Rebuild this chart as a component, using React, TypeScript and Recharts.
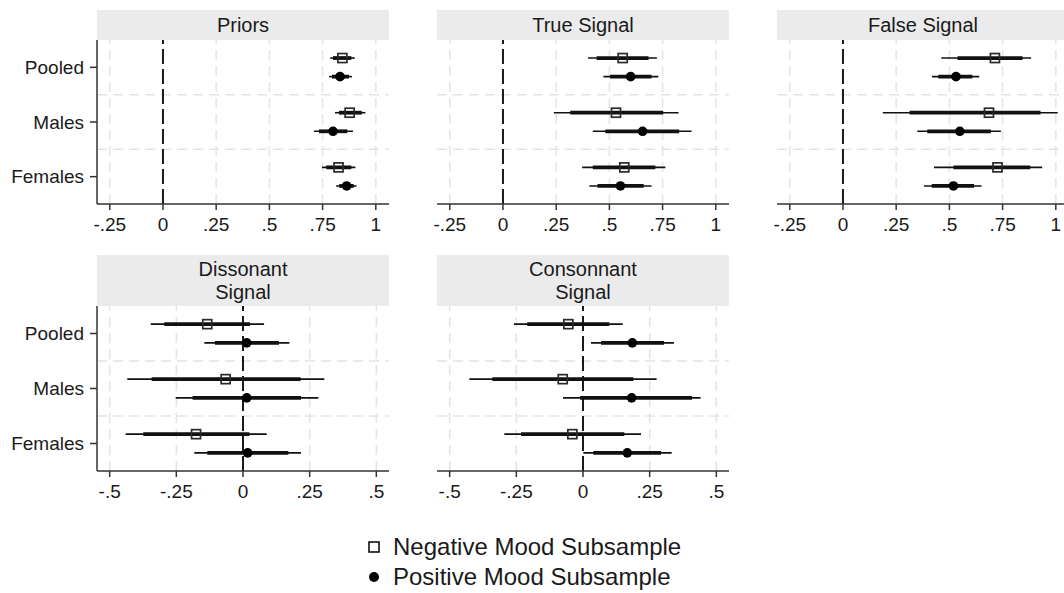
import React from "react";
import { ComposedChart, Scatter, XAxis, YAxis, ErrorBar, ReferenceLine } from "recharts";

// ---------- categories & ticks ----------
const categories = ["Pooled", "Males", "Females"];
const catTicks = [1, 2, 3];
const catBoundaries = [1.5, 2.5];

const topTicks = [-0.25, 0, 0.25, 0.5, 0.75, 1];
const topTickLabels = ["-.25", "0", ".25", ".5", ".75", "1"];
const bottomTicks = [-0.5, -0.25, 0, 0.25, 0.5];
const bottomTickLabels = ["-.5", "-.25", "0", ".25", ".5"];

const legendLabels = ["Negative Mood Subsample", "Positive Mood Subsample"];

// ---------- Priors ----------
const priorsNegEst = [0.843, 0.877, 0.825];
const priorsNegCI95 = [[0.786, 0.901], [0.808, 0.951], [0.747, 0.904]];
const priorsNegCI90 = [[0.799, 0.885], [0.827, 0.934], [0.767, 0.885]];
const priorsPosEst = [0.832, 0.799, 0.863];
const priorsPosCI95 = [[0.78, 0.888], [0.709, 0.893], [0.814, 0.909]];
const priorsPosCI90 = [[0.794, 0.874], [0.733, 0.866], [0.828, 0.896]];

// ---------- True Signal ----------
const trueNegEst = [0.5625, 0.531, 0.57];
const trueNegCI95 = [[0.4, 0.723], [0.239, 0.825], [0.372, 0.763]];
const trueNegCI90 = [[0.44, 0.684], [0.316, 0.753], [0.422, 0.716]];
const truePosEst = [0.6, 0.656, 0.552];
const truePosCI95 = [[0.472, 0.73], [0.422, 0.886], [0.406, 0.698]];
const truePosCI90 = [[0.503, 0.698], [0.481, 0.828], [0.444, 0.661]];

// ---------- False Signal ----------
const falseNegEst = [0.714, 0.686, 0.726];
const falseNegCI95 = [[0.462, 0.884], [0.187, 1.009], [0.428, 0.936]];
const falseNegCI90 = [[0.538, 0.844], [0.313, 0.928], [0.519, 0.88]];
const falsePosEst = [0.531, 0.549, 0.519];
const falsePosCI95 = [[0.418, 0.64], [0.349, 0.742], [0.381, 0.651]];
const falsePosCI90 = [[0.448, 0.608], [0.396, 0.695], [0.417, 0.616]];

// ---------- Dissonant Signal ----------
const dissNegEst = [-0.134, -0.065, -0.176];
const dissNegCI95 = [[-0.346, 0.079], [-0.434, 0.305], [-0.44, 0.089]];
const dissNegCI90 = [[-0.295, 0.026], [-0.3425, 0.216], [-0.374, 0.024]];
const dissPosEst = [0.014, 0.014, 0.0175];
const dissPosCI95 = [[-0.145, 0.174], [-0.2525, 0.2825], [-0.1825, 0.2175]];
const dissPosCI90 = [[-0.105, 0.135], [-0.189, 0.2175], [-0.134, 0.17]];

// ---------- Consonnant Signal ----------
const consNegEst = [-0.055, -0.076, -0.04];
const consNegCI95 = [[-0.259, 0.149], [-0.426, 0.276], [-0.295, 0.2175]];
const consNegCI90 = [[-0.209, 0.099], [-0.34, 0.189], [-0.2325, 0.155]];
const consPosEst = [0.185, 0.1825, 0.166];
const consPosCI95 = [[0.03, 0.341], [-0.075, 0.441], [0.001, 0.3325]];
const consPosCI90 = [[0.0675, 0.304], [-0.011, 0.409], [0.039, 0.2925]];

// ---------- layout / style ----------
const FONT = '"Liberation Sans", Arial, Helvetica, sans-serif';
const TEXT = "#1a1a1a";
const AXIS = "#333333";
const GRID = "#e4e4e4";
const OFFSET = 0.17;

const colLeft = [97, 437, 777];
const PLOT_W = 292;
const rows = [
  { headerTop: 10, headerH: 30, plotTop: 40, plotH: 164, domain: [-0.31, 1.062], ticks: topTicks, labels: topTickLabels },
  { headerTop: 255, headerH: 51, plotTop: 306, plotH: 165, domain: [-0.5475, 0.5475], ticks: bottomTicks, labels: bottomTickLabels },
];

function buildData(est: number[], ci95: number[][], ci90: number[][], shift: number) {
  return est.map((v, i) => ({
    x: v,
    y: catTicks[i] + shift,
    e95: [v - ci95[i][0], ci95[i][1] - v],
    e90: [v - ci90[i][0], ci90[i][1] - v],
  }));
}

const SquareShape = (props: any) => {
  const { cx, cy } = props;
  if (cx == null || cy == null) return null;
  return <rect x={cx - 4.5} y={cy - 4.5} width={9} height={9} fill="none" stroke="#2a2a2a" strokeWidth={1.7} />;
};

const CircleShape = (props: any) => {
  const { cx, cy } = props;
  if (cx == null || cy == null) return null;
  return <circle cx={cx} cy={cy} r={4.8} fill="#000" />;
};

type PanelProps = {
  title: string[];
  col: number;
  row: number;
  neg: any[];
  pos: any[];
};

function Panel({ title, col, row, neg, pos }: PanelProps) {
  const r = rows[row];
  const showY = col === 0;
  const padR = 14;
  const chartLeft = showY ? 0 : colLeft[col] - padR;
  const chartW = showY ? colLeft[col] + PLOT_W + padR : PLOT_W + 2 * padR;
  const xAxisH = 40;
  const chartH = r.plotH + xAxisH;

  return (
    <>
      <div
        style={{
          position: "absolute",
          left: colLeft[col],
          top: r.headerTop,
          width: PLOT_W,
          height: r.headerH,
          background: "#ebebeb",
          display: "flex",
          flexDirection: "column",
          alignItems: "center",
          justifyContent: "center",
          fontFamily: FONT,
          fontSize: 20,
          lineHeight: "23px",
          color: TEXT,
        }}
      >
        {title.map((t) => (
          <div key={t}>{t}</div>
        ))}
      </div>
      <div style={{ position: "absolute", left: chartLeft, top: r.plotTop }}>
        <ComposedChart
          width={chartW}
          height={chartH}
          margin={{ top: 0, right: padR, bottom: 0, left: showY ? 0 : padR }}
        >
          <XAxis
            type="number"
            dataKey="x"
            domain={r.domain}
            ticks={r.ticks}
            interval={0}
            allowDataOverflow
            tickFormatter={(v: number) => r.labels[r.ticks.indexOf(v)]}
            height={xAxisH}
            tickSize={6}
            tickMargin={8}
            axisLine={{ stroke: AXIS, strokeWidth: 1.5 }}
            tickLine={{ stroke: AXIS, strokeWidth: 1.5 }}
            tick={{ fill: TEXT, fontSize: 19, fontFamily: FONT }}
          />
          <YAxis
            type="number"
            dataKey="y"
            domain={[0.5, 3.5]}
            reversed
            ticks={catTicks}
            interval={0}
            allowDataOverflow
            hide={!showY}
            width={showY ? colLeft[0] : 0}
            tickFormatter={(v: number) => categories[catTicks.indexOf(v)]}
            tickSize={7}
            tickMargin={6}
            axisLine={{ stroke: AXIS, strokeWidth: 1.5 }}
            tickLine={{ stroke: AXIS, strokeWidth: 1.5 }}
            tick={{ fill: TEXT, fontSize: 19, fontFamily: FONT }}
          />
          {r.ticks
            .filter((t) => t !== 0)
            .map((t) => (
              <ReferenceLine key={"vx" + t} x={t} stroke={GRID} strokeWidth={1.5} strokeDasharray="10 6" />
            ))}
          {catBoundaries.map((b) => (
            <ReferenceLine key={"hy" + b} y={b} stroke={GRID} strokeWidth={1.5} strokeDasharray="10 6" />
          ))}
          <ReferenceLine x={0} stroke="#1a1a1a" strokeWidth={2} strokeDasharray="15 5" />
          <Scatter data={neg} isAnimationActive={false} shape={SquareShape}>
            <ErrorBar dataKey="e95" direction="x" width={0} stroke="#111" strokeWidth={1.6} isAnimationActive={false} />
            <ErrorBar dataKey="e90" direction="x" width={0} stroke="#111" strokeWidth={3.8} isAnimationActive={false} />
          </Scatter>
          <Scatter data={pos} isAnimationActive={false} shape={CircleShape}>
            <ErrorBar dataKey="e95" direction="x" width={0} stroke="#111" strokeWidth={1.6} isAnimationActive={false} />
            <ErrorBar dataKey="e90" direction="x" width={0} stroke="#111" strokeWidth={3.8} isAnimationActive={false} />
          </Scatter>
        </ComposedChart>
      </div>
    </>
  );
}

export default function App() {
  const panels: PanelProps[] = [
    {
      title: ["Priors"], col: 0, row: 0,
      neg: buildData(priorsNegEst, priorsNegCI95, priorsNegCI90, -OFFSET),
      pos: buildData(priorsPosEst, priorsPosCI95, priorsPosCI90, OFFSET),
    },
    {
      title: ["True Signal"], col: 1, row: 0,
      neg: buildData(trueNegEst, trueNegCI95, trueNegCI90, -OFFSET),
      pos: buildData(truePosEst, truePosCI95, truePosCI90, OFFSET),
    },
    {
      title: ["False Signal"], col: 2, row: 0,
      neg: buildData(falseNegEst, falseNegCI95, falseNegCI90, -OFFSET),
      pos: buildData(falsePosEst, falsePosCI95, falsePosCI90, OFFSET),
    },
    {
      title: ["Dissonant", "Signal"], col: 0, row: 1,
      neg: buildData(dissNegEst, dissNegCI95, dissNegCI90, -OFFSET),
      pos: buildData(dissPosEst, dissPosCI95, dissPosCI90, OFFSET),
    },
    {
      title: ["Consonnant", "Signal"], col: 1, row: 1,
      neg: buildData(consNegEst, consNegCI95, consNegCI90, -OFFSET),
      pos: buildData(consPosEst, consPosCI95, consPosCI90, OFFSET),
    },
  ];

  return (
    <div
      style={{
        position: "absolute",
        left: 0,
        top: 0,
        width: 1064,
        height: 593,
        overflow: "hidden",
        background: "#fff",
        fontFamily: FONT,
      }}
    >
      {panels.map((p) => (
        <Panel key={p.title.join(" ")} {...p} />
      ))}
      <div style={{ position: "absolute", left: 366, top: 532, fontFamily: FONT, fontSize: 24, color: TEXT }}>
        {legendLabels.map((label, i) => (
          <div key={label} style={{ display: "flex", alignItems: "center", height: 30 }}>
            <svg width={16} height={16} style={{ marginRight: 11 }}>
              {i === 0 ? (
                <rect x={3} y={3} width={10} height={10} fill="none" stroke="#111" strokeWidth={1.6} />
              ) : (
                <circle cx={8} cy={8} r={5} fill="#000" />
              )}
            </svg>
            <span>{label}</span>
          </div>
        ))}
      </div>
    </div>
  );
}
